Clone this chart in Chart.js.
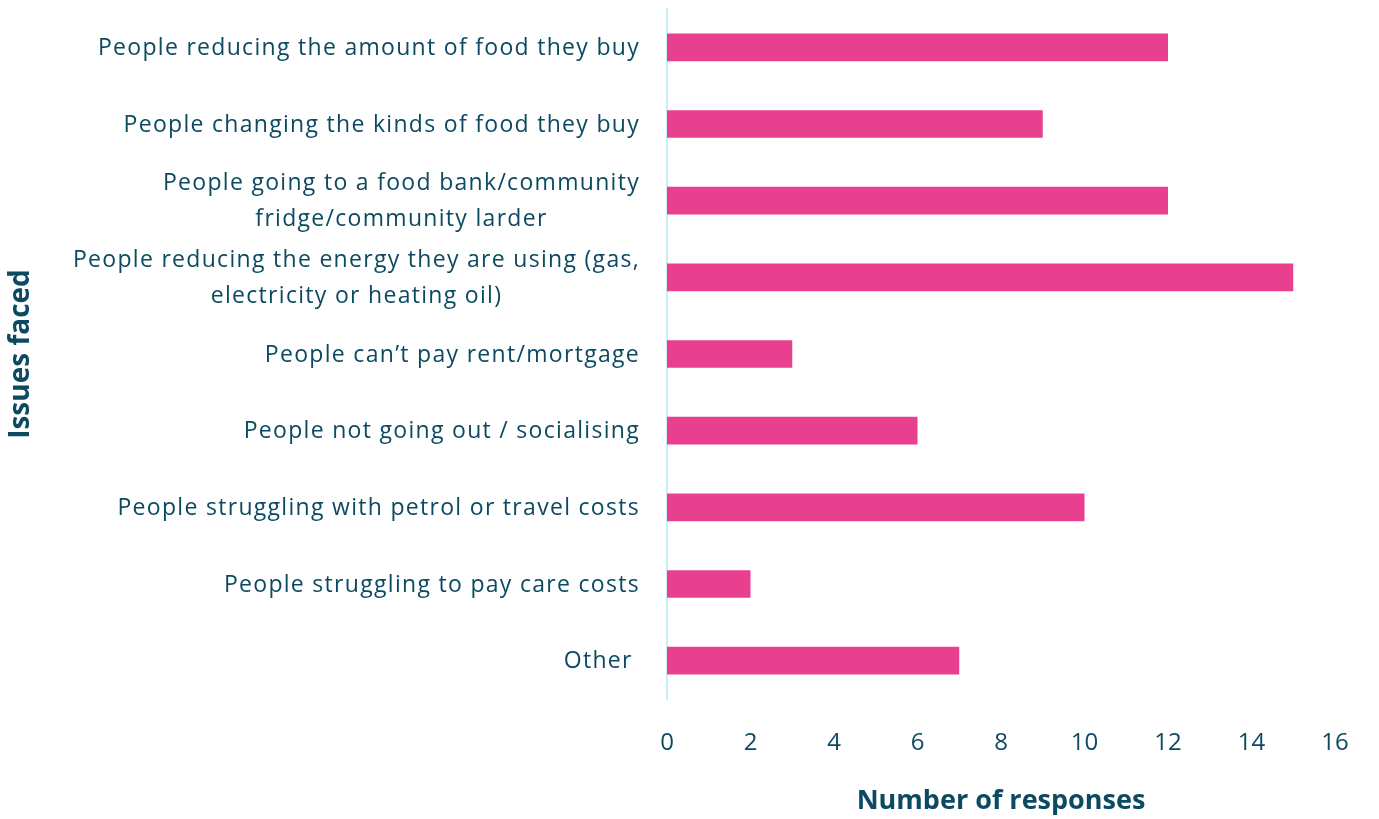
<!DOCTYPE html>
<html>
<head>
<meta charset="utf-8">
<script src="https://cdn.jsdelivr.net/npm/chart.js@4/dist/chart.umd.min.js"></script>
<style>
  html, body { margin: 0; padding: 0; background: #fff; }
  #wrap { width: 1379px; height: 819px; }
</style>
</head>
<body>
<div id="wrap"><canvas id="chart"></canvas></div>
<script>
// Issues reported and the number of responses for each
const issues = [
  ['People reducing the amount of food they buy'],
  ['People changing the kinds of food they buy'],
  ['People going to a food bank/community', 'fridge/community larder'],
  ['People reducing the energy they are using (gas,', 'electricity or heating oil)'],
  ['People can\u2019t pay rent/mortgage'],
  ['People not going out / socialising'],
  ['People struggling with petrol or travel costs'],
  ['People struggling to pay care costs'],
  ['Other ']
];
const responses = [12, 9, 12, 15, 3, 6, 10, 2, 7];
const xTicks = [0, 2, 4, 6, 8, 10, 12, 14, 16];

const textColor = '#0c4a62';
const barColor = '#e8408f';
const fontFamily = '"Open Sans", "Noto Sans", sans-serif';
const labelSize = 23;

// category labels: right edge fixed, lines of a multi-line label centred on each other
const categoryLabels = {
  id: 'categoryLabels',
  afterDraw(chart) {
    const { ctx } = chart;
    const y = chart.scales.y;
    const right = 640;
    const lineH = 36;
    ctx.save();
    ctx.font = labelSize + 'px ' + fontFamily;
    ctx.letterSpacing = '1.3px';
    ctx.fillStyle = textColor;
    ctx.textAlign = 'center';
    ctx.textBaseline = 'middle';
    chart.data.labels.forEach((lines, i) => {
      const cy = y.getPixelForValue(i) + 1;
      const widest = Math.max(...lines.map(l => ctx.measureText(l).width));
      const cx = right - widest / 2;
      lines.forEach((line, j) => {
        ctx.fillText(line, cx, cy + (j - (lines.length - 1) / 2) * lineH);
      });
    });
    ctx.restore();
  }
};

new Chart(document.getElementById('chart'), {
  type: 'bar',
  data: {
    labels: issues,
    datasets: [{
      data: responses,
      backgroundColor: barColor,
      borderWidth: 0,
      barPercentage: 0.36,
      categoryPercentage: 1
    }]
  },
  options: {
    indexAxis: 'y',
    responsive: true,
    maintainAspectRatio: false,
    animation: false,
    layout: { padding: { top: 9, right: 44, bottom: 0, left: 0 } },
    plugins: { legend: { display: false }, tooltip: { enabled: false } },
    scales: {
      x: {
        min: 0,
        max: 16,
        afterBuildTicks: s => { s.ticks = xTicks.map(v => ({ value: v })); },
        afterFit: s => { s.height = 120; },
        grid: { display: false, drawTicks: false },
        border: { display: false },
        ticks: {
          color: textColor,
          padding: 30,
          font: { family: fontFamily, size: 24 }
        },
        title: {
          display: true,
          text: 'Number of responses',
          color: textColor,
          padding: { top: 0, bottom: 1 },
          font: { family: fontFamily, size: 27, weight: 'bold' }
        }
      },
      y: {
        afterFit: s => { s.width = 667; },
        grid: { display: false, drawTicks: false },
        border: { display: true, color: '#c9eefa', width: 2 },
        ticks: { display: false },
        title: {
          display: true,
          text: 'Issues faced',
          color: textColor,
          padding: { top: 4, bottom: 0 },
          font: { family: fontFamily, size: 28, weight: 'bold' }
        }
      }
    }
  },
  plugins: [categoryLabels]
});
</script>
</body>
</html>
